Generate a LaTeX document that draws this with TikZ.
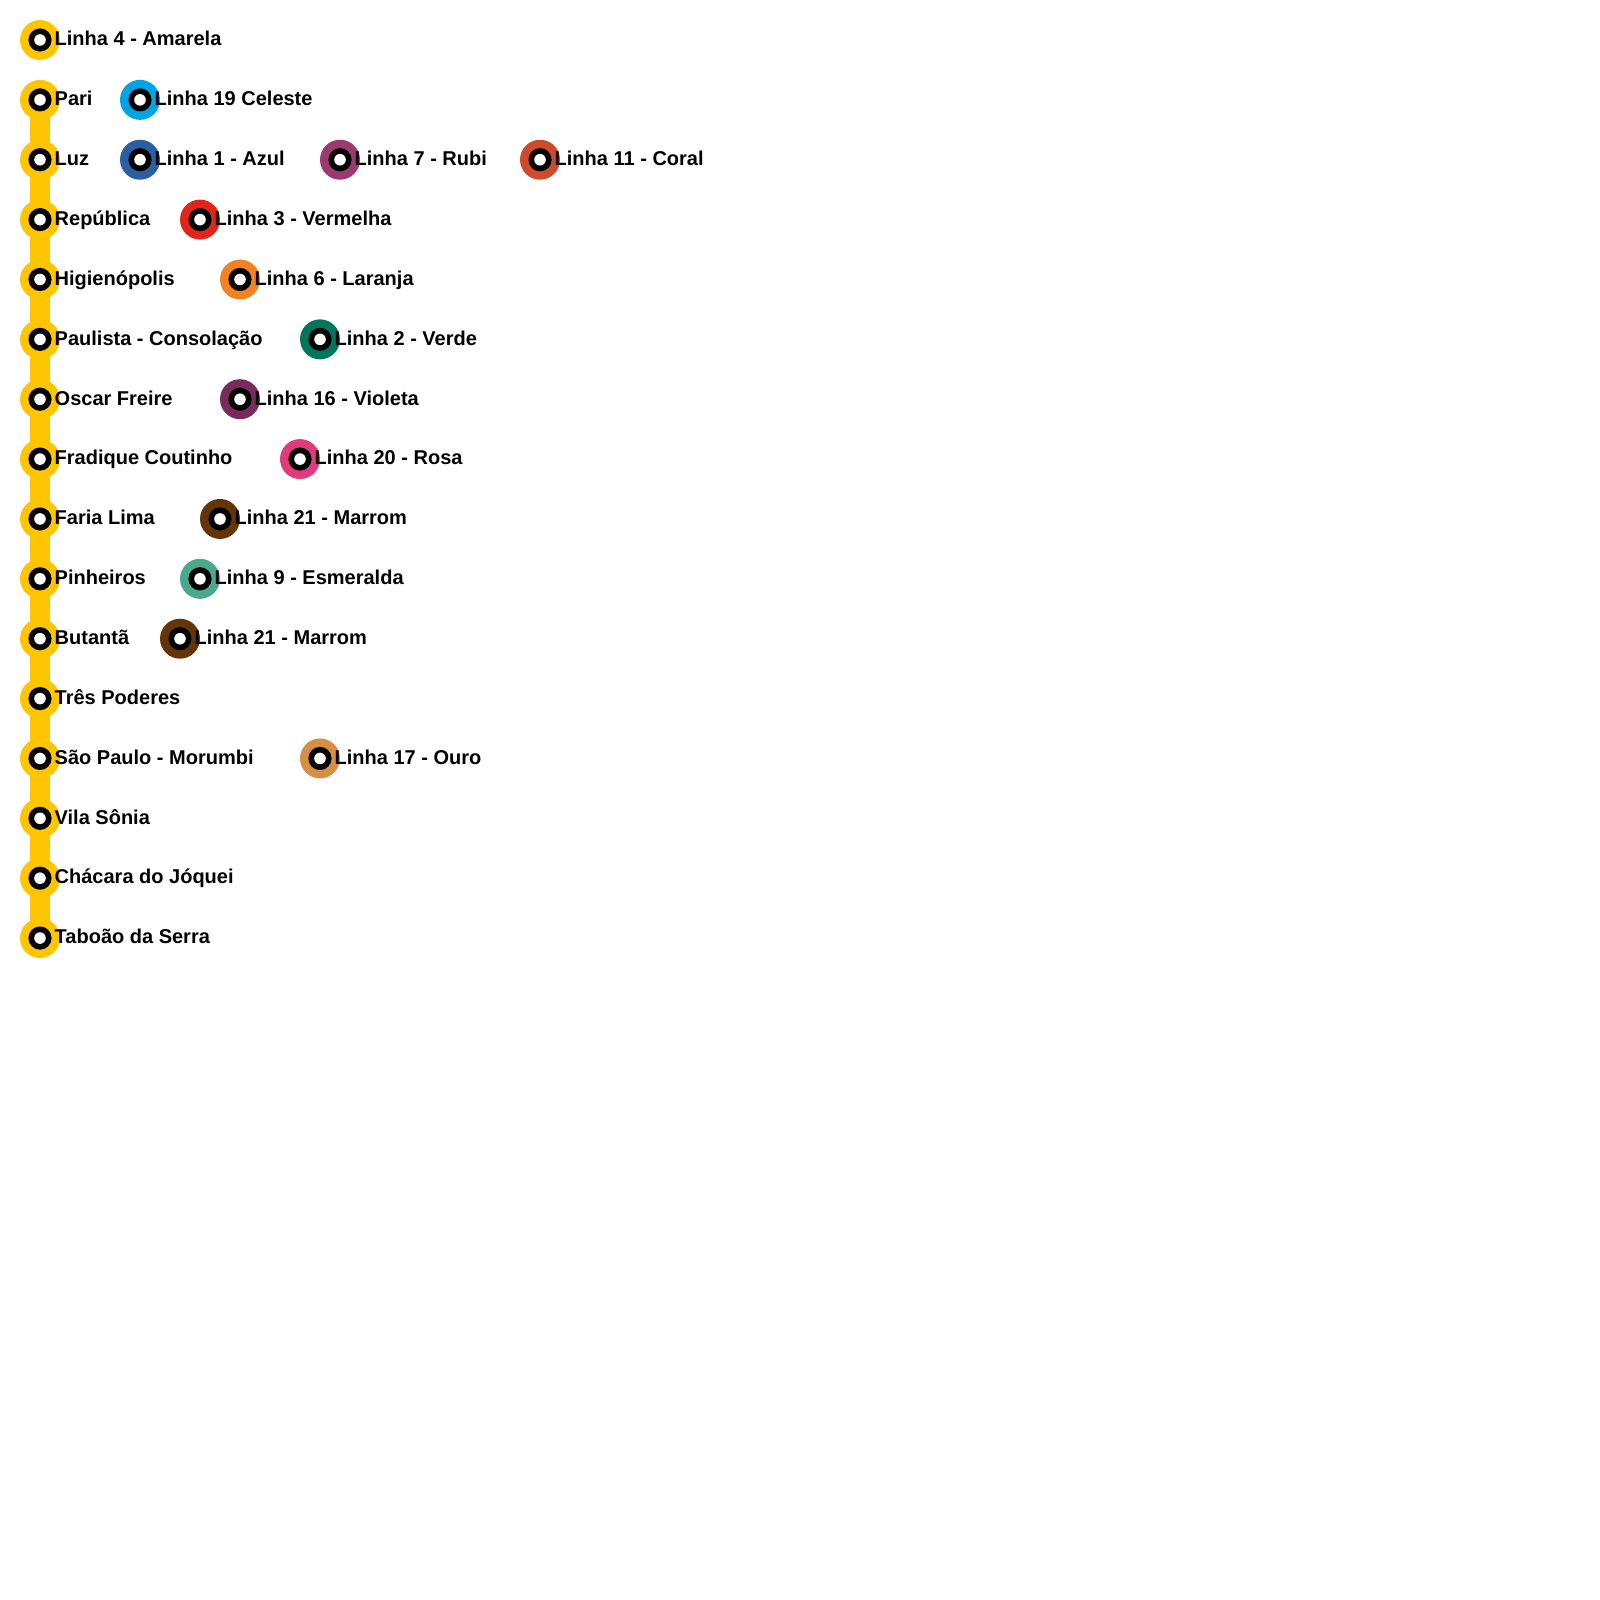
\documentclass[tikz,border=0pt]{standalone}
\usepackage{fontspec}
\setmainfont{Liberation Sans}
\usetikzlibrary{backgrounds}
\definecolor{amarela}{HTML}{FFC600}
\definecolor{celeste}{HTML}{00A3E6}
\definecolor{azul}{HTML}{2C5EA3}
\definecolor{rubi}{HTML}{9A3A6E}
\definecolor{coral}{HTML}{CF4A2A}
\definecolor{vermelha}{HTML}{E1251B}
\definecolor{laranja}{HTML}{F58220}
\definecolor{verde}{HTML}{00775C}
\definecolor{violeta}{HTML}{7A2B5C}
\definecolor{rosa}{HTML}{E03C7D}
\definecolor{marrom}{HTML}{643607}
\definecolor{esmeralda}{HTML}{4AA88F}
\definecolor{ouro}{HTML}{D68F43}
\tikzset{
  stn/.style={circle, inner sep=0pt, minimum size=40pt, fill=#1,
    path picture={\fill[black] (path picture bounding box.center) circle (11.6pt);
                  \fill[white] (path picture bounding box.center) circle (5.8pt);}},
  lbl/.style={anchor=base west, inner sep=0pt, text=black,
    font=\fontsize{20}{24}\selectfont\bfseries},
  trunk/.style={line width=20pt, draw=amarela}
}
\newcommand{\mystation}[5]{%
  \node[stn=#4] (#1) at (#2, {40+59.87*#3}) {};
  \node[lbl] (#1-t) at ([xshift=14.5pt, yshift=-5.8pt]#1.center) {#5};
}
\begin{document}
\begin{tikzpicture}[x=1pt, y=-1pt]
\useasboundingbox (0,0) rectangle (1600,1600);
\mystation{l4}{40}{0}{amarela}{Linha 4 - Amarela}
\mystation{pari}{40}{1}{amarela}{Pari}
\mystation{l19}{140}{1}{celeste}{Linha 19 Celeste}
\mystation{luz}{40}{2}{amarela}{Luz}
\mystation{l1}{140}{2}{azul}{Linha 1 - Azul}
\mystation{l7}{340}{2}{rubi}{Linha 7 - Rubi}
\mystation{l11}{540}{2}{coral}{Linha 11 - Coral}
\mystation{rep}{40}{3}{amarela}{República}
\mystation{l3}{200}{3}{vermelha}{Linha 3 - Vermelha}
\mystation{hig}{40}{4}{amarela}{Higienópolis}
\mystation{l6}{240}{4}{laranja}{Linha 6 - Laranja}
\mystation{pau}{40}{5}{amarela}{Paulista - Consolação}
\mystation{l2}{320}{5}{verde}{Linha 2 - Verde}
\mystation{osc}{40}{6}{amarela}{Oscar Freire}
\mystation{l16}{240}{6}{violeta}{Linha 16 - Violeta}
\mystation{fra}{40}{7}{amarela}{Fradique Coutinho}
\mystation{l20}{300}{7}{rosa}{Linha 20 - Rosa}
\mystation{far}{40}{8}{amarela}{Faria Lima}
\mystation{l21a}{220}{8}{marrom}{Linha 21 - Marrom}
\mystation{pin}{40}{9}{amarela}{Pinheiros}
\mystation{l9}{200}{9}{esmeralda}{Linha 9 - Esmeralda}
\mystation{but}{40}{10}{amarela}{Butantã}
\mystation{l21b}{180}{10}{marrom}{Linha 21 - Marrom}
\mystation{tre}{40}{11}{amarela}{Três Poderes}
\mystation{spm}{40}{12}{amarela}{São Paulo - Morumbi}
\mystation{l17}{320}{12}{ouro}{Linha 17 - Ouro}
\mystation{vil}{40}{13}{amarela}{Vila Sônia}
\mystation{cha}{40}{14}{amarela}{Chácara do Jóquei}
\mystation{tab}{40}{15}{amarela}{Taboão da Serra}
\begin{scope}[on background layer]
  \draw[trunk] (pari.center) -- (tab.center);
\end{scope}
\end{tikzpicture}
\end{document}
